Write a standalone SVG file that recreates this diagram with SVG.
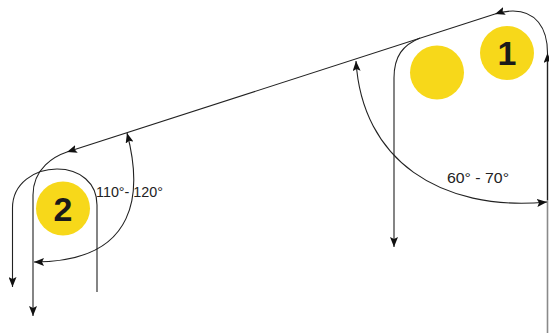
<svg xmlns="http://www.w3.org/2000/svg" width="549" height="333" viewBox="0 0 549 333">
<style>
.c{fill:#F7D81A}
.n{font-family:"Liberation Sans",Arial,sans-serif;font-weight:bold;font-size:34px;fill:#1a1a1a;text-anchor:middle}
.l{font-family:"Liberation Sans",Arial,sans-serif;font-size:14px;fill:#222}
.p{fill:none;stroke:#222;stroke-width:1.1}
.g{fill:none;stroke:#8a8a8a;stroke-width:1.6}
</style>
<defs>
<marker id="a" viewBox="0 0 10 8" refX="10" refY="4" markerWidth="10" markerHeight="8" orient="auto-start-reverse" markerUnits="userSpaceOnUse">
<path d="M0,0 L10,4 L0,8 L2,4 z" fill="#111"/>
</marker>
</defs>
<rect width="549" height="333" fill="#fff"/>
<g id="node-1">
<circle class="c" cx="507" cy="53" r="27"/>
<text class="n" x="507" y="65">1</text>
</g>
<g id="node-blank">
<circle class="c" cx="437" cy="72.5" r="27"/>
</g>
<g id="node-2">
<circle class="c" cx="63" cy="208.5" r="27"/>
<text class="n" x="63" y="221">2</text>
</g>
<g id="connectors">
<path class="g" d="M547.5,333 L547.5,60"/>
<path class="p" d="M547.5,200 L547.5,53" marker-end="url(#a)"/>
<path class="p" d="M547.5,53 C547.5,27 535,11 513,11 C506,11 501,12 495,14" marker-end="url(#a)"/>
<path class="p" d="M495,14 L67,152" marker-end="url(#a)"/>
<path class="p" d="M67,152 C55,156 33,168 33,195 L33,316" marker-end="url(#a)"/>
<path class="p" d="M420,38 C403,45 394,56 394,78 L394,247" marker-end="url(#a)"/>
<path class="p" d="M97,292 L97,205 C97,183 80,169 57,169 C35,169 12.5,183 12.5,208 L12.5,287" marker-end="url(#a)"/>
<path class="p" d="M356,61 C362,160 440,212 547,202" marker-start="url(#a)" marker-end="url(#a)"/>
<path class="p" d="M127,133 C142,190 140,262 34,262" marker-start="url(#a)" marker-end="url(#a)"/>
<text class="l" x="447" y="183" textLength="62" lengthAdjust="spacingAndGlyphs">60° - 70°</text>
<text class="l" x="96" y="197" textLength="67" lengthAdjust="spacingAndGlyphs">110°- 120°</text>
</g>
</svg>
